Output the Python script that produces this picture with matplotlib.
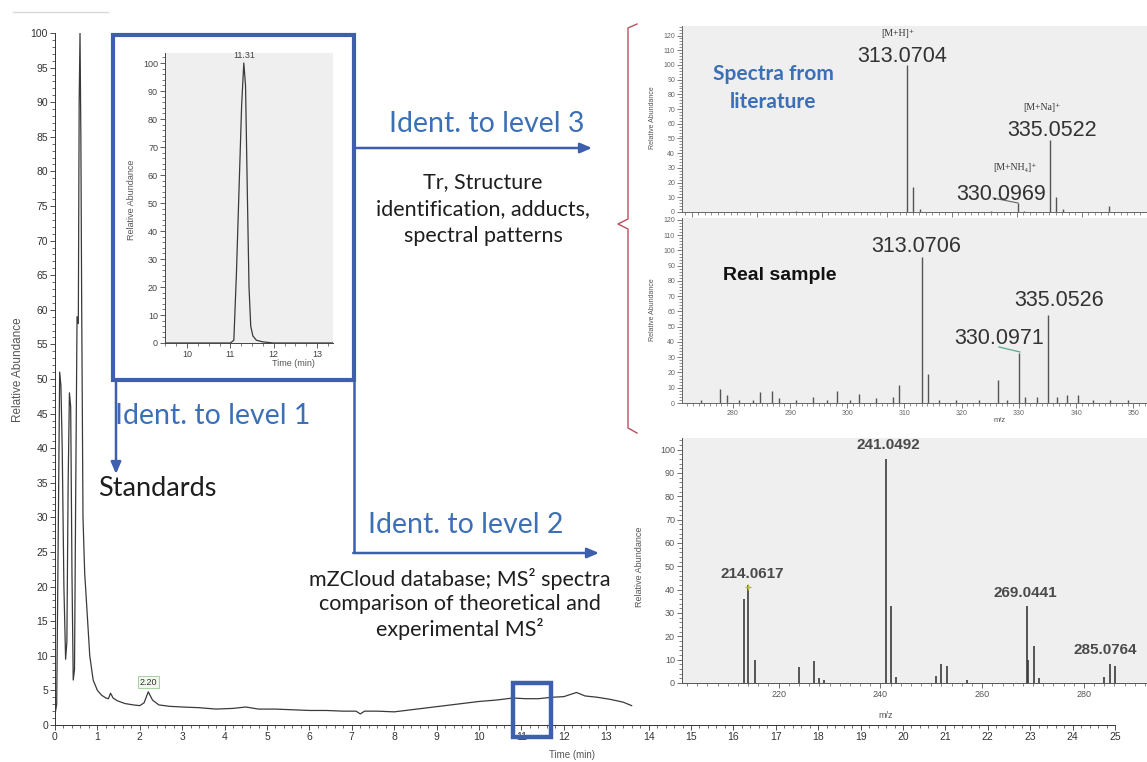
import matplotlib.pyplot as plt
from matplotlib.patches import Rectangle
from matplotlib.ticker import MultipleLocator

plt.rcParams['font.family'] = ['Liberation Sans', 'DejaVu Sans']

# total ion chromatogram (main panel)
tic_time = [0.00, 0.04, 0.08, 0.11, 0.14, 0.17, 0.21, 0.25, 0.28, 0.31, 0.34, 0.37,
            0.40, 0.43, 0.46, 0.49, 0.52, 0.55, 0.57, 0.59, 0.61, 0.63, 0.66, 0.70,
            0.76, 0.82, 0.90, 1.00, 1.10, 1.20, 1.26, 1.31, 1.37, 1.47, 1.65, 1.85,
            2.00, 2.10, 2.20, 2.30, 2.45, 2.70, 3.00, 3.40, 3.80, 4.20, 4.50, 4.80,
            5.20, 5.60, 6.00, 6.40, 6.80, 7.10, 7.20, 7.30, 7.60, 8.00, 8.40, 8.80,
            9.20, 9.60, 10.00, 10.40, 10.80, 11.10, 11.40, 11.70, 12.00, 12.30,
            12.50, 12.80, 13.10, 13.40, 13.60]
tic_abund = [1.5, 3.0, 30, 51, 49, 40, 20, 9.5, 12, 35, 48, 46,
             22, 6.5, 8, 35, 59, 58, 90, 100, 85, 60, 30, 22,
             16, 10, 6.5, 5.0, 4.3, 3.9, 3.8, 4.6, 3.9, 3.5, 3.1, 2.9,
             2.8, 3.2, 4.8, 3.6, 2.9, 2.7, 2.6, 2.5, 2.3, 2.4, 2.6, 2.3,
             2.3, 2.2, 2.1, 2.1, 2.0, 2.0, 1.6, 2.0, 2.0, 1.9, 2.2, 2.5,
             2.8, 3.1, 3.4, 3.6, 3.9, 3.8, 3.8, 4.0, 4.1, 4.7,
             4.2, 4.0, 3.7, 3.3, 2.8]

# extracted ion chromatogram of the standard (inset)
eic_time = [9.50, 11.00, 11.08, 11.14, 11.20, 11.26, 11.31, 11.35, 11.39, 11.43,
            11.47, 11.52, 11.60, 11.75, 12.00, 13.37]
eic_abund = [0, 0, 1, 25, 55, 85, 100, 92, 55, 20, 6, 2.5, 1, 0.4, 0, 0]

# MS spectrum from literature
lit_mz = [296.0, 313.07, 314.07, 315.07, 326.0, 330.10, 331.10, 335.05, 336.06, 337.05, 344.2]
lit_int = [1, 100, 17, 2, 1, 6, 1, 49, 10, 2, 4]

# MS spectrum of the real sample
real_mz = [274.5, 277.8, 278.9, 281.0, 283.5, 284.7, 286.8, 288.0, 291.0, 294.0, 296.5,
           298.2, 300.5, 302.0, 305.0, 308.0, 309.0, 313.07, 314.07, 316.0, 319.0,
           323.0, 326.4, 328.0, 330.10, 331.0, 333.2, 335.05, 336.7, 338.4, 340.4,
           343.0, 346.0, 349.0]
real_int = [2, 9, 5, 2, 2, 7, 8, 3, 2, 4, 2,
            8, 2, 6, 3, 4, 12, 96, 19, 2, 2,
            2, 15, 2, 33, 4, 4, 58, 4, 5, 5,
            2, 2, 2]

# MS2 spectrum
ms2_mz = [213.2, 214.06, 215.4, 224.0, 227.0, 228.0, 229.0, 241.05, 242.05, 243.0,
          250.9, 251.9, 253.0, 257.0, 268.9, 269.04, 270.2, 271.2, 284.0, 285.08, 286.1]
ms2_int = [36, 42, 10, 7, 9.5, 2, 1.5, 96, 33, 2.5,
           3, 8, 7.5, 1.5, 33, 10, 16, 2, 2.5, 8, 7.5]

W, H = 1147, 762
BOX_BLUE = '#3d5fae'
TXT_BLUE = '#3b6fb6'
GREY_BG = '#efefef'

fig = plt.figure(figsize=(W / 100, H / 100), dpi=100)


def add_px_axes(left, top, right, bottom, **kw):
    return fig.add_axes([left / W, 1 - bottom / H, (right - left) / W, (bottom - top) / H], **kw)


def style_axes(ax, size, color='#444444'):
    for s in ['top', 'right']:
        ax.spines[s].set_visible(False)
    for s in ['left', 'bottom']:
        ax.spines[s].set_color(color)
        ax.spines[s].set_linewidth(0.7)
    ax.tick_params(which='major', length=3.5, width=0.6, labelsize=size, colors=color, pad=1.5)
    ax.tick_params(which='minor', length=2, width=0.5, colors=color)


# main chromatogram
ax = add_px_axes(55, 33, 1115, 725)
ax.plot(tic_time, tic_abund, color='#3a3a3a', lw=0.9)
ax.set_xlim(0, 25)
ax.set_ylim(0, 100)
ax.xaxis.set_major_locator(MultipleLocator(1))
ax.xaxis.set_minor_locator(MultipleLocator(0.2))
ax.yaxis.set_major_locator(MultipleLocator(5))
ax.yaxis.set_minor_locator(MultipleLocator(1))
style_axes(ax, 7.5, '#333333')
ax.text(2.2, 6.2, '2.20', fontsize=6.5, ha='center', va='center', color='#333',
        bbox=dict(boxstyle='square,pad=0.2', fc='#f2f8f0', ec='#a8cfa4', lw=0.7))
ax.add_patch(Rectangle((10.8, -1.7), 0.9, 7.8, fill=False, ec=BOX_BLUE, lw=3.2,
                       clip_on=False, zorder=5))

# inset: standard
ins = add_px_axes(165, 53, 333, 343)
ins.set_facecolor(GREY_BG)
ins.plot(eic_time, eic_abund, color='#3a3a3a', lw=0.9)
ins.set_xlim(9.49, 13.37)
ins.set_ylim(0, 103.6)
ins.xaxis.set_major_locator(MultipleLocator(1))
ins.xaxis.set_minor_locator(MultipleLocator(0.25))
ins.yaxis.set_major_locator(MultipleLocator(10))
ins.yaxis.set_minor_locator(MultipleLocator(2))
style_axes(ins, 6.5)
ins.text(11.31, 101, '11.31', fontsize=6.5, ha='center', va='bottom', color='#444')

# literature spectrum
lit = add_px_axes(682, 26, 1147, 212)
lit.set_facecolor(GREY_BG)
lit.vlines(lit_mz, 0, lit_int, color='#555555', lw=1.0)
lit.set_xlim(278.5, 350)
lit.set_ylim(0, 126.5)
lit.xaxis.set_major_locator(MultipleLocator(10))
lit.xaxis.set_minor_locator(MultipleLocator(1))
lit.yaxis.set_major_locator(MultipleLocator(10))
lit.yaxis.set_minor_locator(MultipleLocator(2))
style_axes(lit, 5, '#666666')
lit.tick_params(axis='x', labelbottom=False)

# real sample spectrum
real = add_px_axes(682, 218, 1147, 403)
real.set_facecolor(GREY_BG)
real.vlines(real_mz, 0, real_int, color='#555555', lw=1.0)
real.set_xlim(271.1, 352.4)
real.set_ylim(0, 121.3)
real.xaxis.set_major_locator(MultipleLocator(10))
real.xaxis.set_minor_locator(MultipleLocator(1))
real.yaxis.set_major_locator(MultipleLocator(10))
real.yaxis.set_minor_locator(MultipleLocator(2))
style_axes(real, 5, '#666666')

# MS2 spectrum
ms2 = add_px_axes(682, 438, 1147, 683)
ms2.set_facecolor(GREY_BG)
ms2.vlines(ms2_mz, 0, ms2_int, color='#3a3a3a', lw=1.2)
ms2.plot([214.06], [41], marker='+', color='#b8b83a', ms=5, mew=1)
ms2.set_xlim(201, 292.4)
ms2.set_ylim(0, 105)
ms2.xaxis.set_major_locator(MultipleLocator(20))
ms2.xaxis.set_minor_locator(MultipleLocator(2))
ms2.yaxis.set_major_locator(MultipleLocator(10))
ms2.yaxis.set_minor_locator(MultipleLocator(2))
style_axes(ms2, 6.5, '#555555')

# overlay in pixel coordinates for the schematic
ov = fig.add_axes([0, 0, 1, 1], zorder=10)
ov.set_xlim(0, W)
ov.set_ylim(H, 0)
ov.axis('off')
ov.patch.set_alpha(0)

ov.plot([13, 108], [12, 12], color='#d8d8d8', lw=1)
ov.add_patch(Rectangle((113, 35), 241, 345, fill=False, ec=BOX_BLUE, lw=3.0))

arrow = dict(arrowstyle='-|>,head_length=0.7,head_width=0.3', color=BOX_BLUE, lw=1.8,
             shrinkA=0, shrinkB=0)
ov.annotate('', xy=(592, 148), xytext=(354, 148), arrowprops=arrow)
ov.annotate('', xy=(116, 474), xytext=(116, 380), arrowprops=arrow)
ov.plot([354, 354], [380, 553], color=BOX_BLUE, lw=1.8, solid_capstyle='butt')
ov.annotate('', xy=(599, 553), xytext=(353.2, 553), arrowprops=arrow)

calibri = ['Lato', 'DejaVu Sans']
ov.text(487, 124, 'Ident. to level 3', fontsize=20.5, family=calibri, color=TXT_BLUE,
        ha='center', va='center')
ov.text(466, 525, 'Ident. to level 2', fontsize=20.5, family=calibri, color=TXT_BLUE,
        ha='center', va='center')
ov.text(213, 416, 'Ident. to level 1', fontsize=20.5, family=calibri, color=TXT_BLUE,
        ha='center', va='center')
ov.text(483, 209, 'Tr, Structure\nidentification, adducts,\nspectral patterns', fontsize=15.5,
        family=calibri, color='#1e1e1e', ha='center', va='center', linespacing=1.45)
ov.text(98, 488, 'Standards', fontsize=19.5, family=calibri, color='#1e1e1e',
        ha='left', va='center')
ov.text(460, 604, 'mZCloud database; MS² spectra\ncomparison of theoretical and\nexperimental MS²',
        fontsize=15.5, family=calibri, color='#1e1e1e', ha='center', va='center',
        linespacing=1.25)

# bracket joining the two MS spectra
ov.plot([637, 628, 628, 618, 628, 628, 637], [24, 28, 219, 224, 229, 428, 433],
        color='#b9505e', lw=1.0)

# spectrum annotations
ov.text(773, 88, 'Spectra from\nliterature', fontsize=15, family=calibri,
        weight='bold', color=TXT_BLUE, ha='center', va='center', linespacing=1.5)
serif = ['Liberation Serif', 'DejaVu Serif']
ov.text(898, 33, '[M+H]⁺', fontsize=7, family=serif, color='#333', ha='center', va='center')
ov.text(902, 56, '313.0704', fontsize=15.5, color='#333', ha='center', va='center')
ov.text(1042, 108, '[M+Na]⁺', fontsize=7, family=serif, color='#333', ha='center', va='center')
ov.text(1052, 130, '335.0522', fontsize=15.5, color='#333', ha='center', va='center')
ov.text(1015, 167, '[M+NH₄]⁺', fontsize=7, family=serif, color='#333', ha='center', va='center')
ov.text(1001, 194, '330.0969', fontsize=15.5, color='#333', ha='center', va='center')
ov.plot([993, 1018], [198, 203], color='#666', lw=0.8)

ov.text(780, 275, 'Real sample', fontsize=14, weight='bold', color='#111', ha='center', va='center')
ov.text(916, 246, '313.0706', fontsize=15.5, color='#333', ha='center', va='center')
ov.text(1059, 300, '335.0526', fontsize=15.5, color='#333', ha='center', va='center')
ov.text(999, 338, '330.0971', fontsize=15.5, color='#333', ha='center', va='center')
ov.plot([999, 1020], [347, 352], color='#5aa88a', lw=0.9)

for x, y, s in [(888, 445, '241.0492'), (752, 574, '214.0617'), (1025, 593, '269.0441')]:
    ov.text(x, y, s, fontsize=11, weight='bold', color='#4a4a4a', ha='center', va='center')
ov.text(1073, 650, '285.0764', fontsize=11, weight='bold', color='#4a4a4a', ha='left', va='center')

# axis titles
small = dict(color='#555', ha='center', va='center')
ov.text(18, 370, 'Relative Abundance', fontsize=8.5, rotation=90, **small)
ov.text(572, 755, 'Time (min)', fontsize=7, **small)
ov.text(131, 200, 'Relative Abundance', fontsize=6.5, rotation=90, **small)
ov.text(293, 363, 'Time (min)', fontsize=6.5, **small)
ov.text(652, 118, 'Relative Abundance', fontsize=5, rotation=90, **small)
ov.text(652, 310, 'Relative Abundance', fontsize=5, rotation=90, **small)
ov.text(1000, 421, 'm/z', fontsize=5.5, **small)
ov.text(640, 567, 'Relative Abundance', fontsize=6.5, rotation=90, **small)
ov.text(886, 716, 'm/z', fontsize=6.5, **small)

fig.savefig('out.png', dpi=100, facecolor='white')
